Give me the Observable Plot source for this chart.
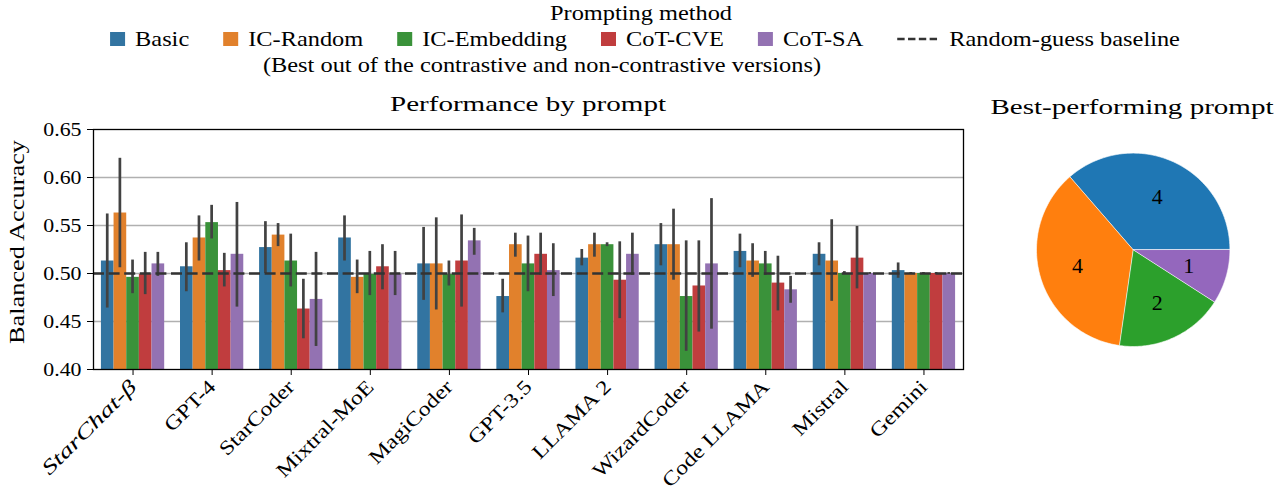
<!DOCTYPE html>
<html><head><meta charset="utf-8">
<script src="https://cdn.jsdelivr.net/npm/d3@7"></script>
<script src="https://cdn.jsdelivr.net/npm/@observablehq/plot@0.6"></script>
<style>
body{margin:0;background:#fff;}
#root{position:relative;width:1278px;height:495px;font-family:"Liberation Serif",serif;color:#000;overflow:hidden;background:#fff}
#bars,#pie,#over{position:absolute;top:0}
#bars{left:0}
#pie{left:975px}
#over{left:0;pointer-events:none}
</style></head><body><div id="root"></div>
<script>
// ---- data ----
const models = ["StarChat-\u03b2","GPT-4","StarCoder","Mixtral-MoE","MagiCoder","GPT-3.5","LLAMA 2","WizardCoder","Code LLAMA","Mistral","Gemini"];
const methods = ["Basic","IC-Random","IC-Embedding","CoT-CVE","CoT-SA"];
const basicVal = [0.513,0.507,0.527,0.537,0.510,0.476,0.516,0.530,0.523,0.520,0.503];
const basicLo  = [0.464,0.481,0.500,0.513,0.472,0.459,0.508,0.508,0.506,0.508,0.495];
const basicHi  = [0.562,0.532,0.554,0.560,0.548,0.494,0.525,0.552,0.541,0.532,0.511];
const icRandVal = [0.563,0.537,0.540,0.496,0.510,0.530,0.530,0.530,0.513,0.513,0.500];
const icRandLo  = [0.506,0.513,0.528,0.479,0.462,0.517,0.517,0.493,0.496,0.471,0.499];
const icRandHi  = [0.620,0.560,0.552,0.514,0.558,0.542,0.542,0.567,0.531,0.556,0.501];
const icEmbVal = [0.496,0.553,0.513,0.499,0.499,0.510,0.530,0.476,0.510,0.500,0.500];
const icEmbLo  = [0.479,0.536,0.486,0.477,0.487,0.481,0.528,0.419,0.498,0.499,0.499];
const icEmbHi  = [0.514,0.571,0.541,0.523,0.513,0.539,0.532,0.534,0.523,0.502,0.501];
const cveVal = [0.499,0.503,0.463,0.507,0.513,0.520,0.493,0.487,0.490,0.516,0.500];
const cveLo  = [0.478,0.486,0.432,0.483,0.465,0.498,0.453,0.439,0.461,0.484,0.499];
const cveHi  = [0.522,0.521,0.494,0.530,0.561,0.542,0.533,0.534,0.518,0.549,0.501];
const saVal = [0.510,0.520,0.473,0.499,0.534,0.503,0.520,0.510,0.483,0.500,0.500];
const saLo  = [0.497,0.465,0.424,0.477,0.519,0.476,0.498,0.442,0.469,0.499,0.499];
const saHi  = [0.522,0.574,0.522,0.523,0.547,0.531,0.542,0.578,0.497,0.501,0.501];
const baseline = [0.5];
const yTicks = [0.40,0.45,0.50,0.55,0.60,0.65];
const gridTicks = [0.45,0.50,0.55,0.60];
const barColors = ["#3274a1","#e1812c","#3a923a","#c03d3e","#9372b2"];
const pieLabels = ["Basic","IC-Random","IC-Embedding","CoT-SA"];
const pieCounts = [4,4,2,1];
const pieColors = ["#1f77b4","#ff7f0e","#2ca02c","#9467bd"];
const baselineLabel = "Random-guess baseline";

const seriesVal = [basicVal,icRandVal,icEmbVal,cveVal,saVal];
const seriesLo = [basicLo,icRandLo,icEmbLo,cveLo,saLo];
const seriesHi = [basicHi,icRandHi,icEmbHi,cveHi,saHi];
const rows = [];
methods.forEach((m,k)=>models.forEach((mod,j)=>rows.push({method:m,model:mod,value:seriesVal[k][j],lo:seriesLo[k][j],hi:seriesHi[k][j]})));

const root = document.getElementById("root");
const FONT = "Liberation Serif";
function stretch(t, f){const w=t.getComputedTextLength(); if(w>0){t.setAttribute("textLength", w*f); t.setAttribute("lengthAdjust","spacingAndGlyphs");} return w*f;}

// ---- bar chart ----
const W = 975, H = 495, mL = 93, mR = 12, mT = 129, mB = 126;
const step = (W - mL - mR) / models.length;
const bw = step * 0.8 / methods.length;
const ew = 2.7;
const marks = [Plot.ruleY(gridTicks, {stroke:"#b0b0b0", strokeWidth:1.3})];
methods.forEach((m,k)=>{
  const d = rows.filter(r=>r.method===m);
  marks.push(Plot.barY(d, {x:"model", y1:()=>yTicks[0], y2:"value", fill:barColors[k], insetLeft:k*bw, insetRight:(methods.length-1-k)*bw}));
});
methods.forEach((m,k)=>{
  const d = rows.filter(r=>r.method===m);
  marks.push(Plot.barY(d, {x:"model", y1:"lo", y2:"hi", fill:"#424242", insetLeft:k*bw+(bw-ew)/2, insetRight:(methods.length-1-k)*bw+(bw-ew)/2}));
});
marks.push(Plot.ruleY(baseline, {stroke:"#333333", strokeWidth:2.6, strokeDasharray:"11,4.6"}));
marks.push(Plot.frame({stroke:"#000", strokeWidth:1.3}));

const bars = Plot.plot({
  width: W, height: H, marginLeft: mL, marginRight: mR, marginTop: mT, marginBottom: mB,
  style: {fontFamily:FONT, fontSize:"20px", color:"#000", background:"transparent", overflow:"visible"},
  x: {domain: models, paddingInner: 0.2, paddingOuter: 0.1, round:false, tickRotate: -45, tickSize: 6, tickPadding: 8, label: null},
  y: {domain: [yTicks[0], yTicks[yTicks.length-1]], ticks: yTicks, tickFormat: d3.format(".2f"), tickSize: 6, tickPadding: 6, label: null},
  marks
});
bars.id = "bars";
root.appendChild(bars);
bars.querySelectorAll('g[aria-label^="x-axis"] text').forEach(t=>{
  if (t.textContent.includes("\u03b2")) { t.style.fontStyle="italic"; stretch(t,1.4); }
  else stretch(t,1.2);
});
bars.querySelectorAll('g[aria-label^="y-axis"] text').forEach(t=>{ t.style.fontSize="19px"; stretch(t,1.15); });

// ---- pie chart ----
const total = d3.sum(pieCounts);
const cum = [0, ...d3.cumsum(pieCounts)];
const piePts = [];
const pieText = [];
pieCounts.forEach((c,i)=>{
  const a0 = 2*Math.PI*cum[i]/total, a1 = 2*Math.PI*cum[i+1]/total;
  piePts.push({s:pieLabels[i], x:0, y:0});
  const n = 80;
  for (let t=0;t<=n;t++){const a=a0+(a1-a0)*t/n; piePts.push({s:pieLabels[i], x:Math.cos(a), y:Math.sin(a)});}
  const am=(a0+a1)/2;
  pieText.push({s:pieLabels[i], n:c, x:0.6*Math.cos(am), y:0.6*Math.sin(am)});
});
const cx = 157.7, cy = 249.3, r = 96.7;
const pieMarks = pieLabels.map((s,i)=>Plot.line(piePts.filter(p=>p.s===s), {x:"x", y:"y", fill:pieColors[i], stroke:"white", strokeWidth:0.6, curve:"linear-closed"}));
pieMarks.push(Plot.text(pieText, {x:"x", y:"y", text:d=>String(d.n), fontSize:22, fill:"#000"}));
const pie = Plot.plot({
  width: 303, height: H, margin: 0,
  style: {fontFamily:FONT, fontSize:"22px", background:"transparent", overflow:"visible"},
  x: {domain:[-1,1], range:[cx-r, cx+r], axis:null},
  y: {domain:[-1,1], range:[cy+r, cy-r], axis:null},
  marks: pieMarks
});
pie.id = "pie";
root.appendChild(pie);

// ---- overlay texts: titles, y label, legend ----
const over = d3.select(root).append("svg").attr("id","over").attr("width",1278).attr("height",495)
  .attr("font-family", FONT).attr("fill","#000");
function txt(str, x, y, size, anchor, target){
  const t = over.append("text").attr("x",x).attr("y",y).attr("font-size",size).attr("text-anchor",anchor).text(str);
  if (target) { t.attr("textLength", target).attr("lengthAdjust","spacingAndGlyphs"); }
  return t;
}
txt("Performance by prompt", 528, 111, 21, "middle", 276);
txt("Best-performing prompt", 1132, 114, 21, "middle", 283);
txt("Balanced Accuracy", 0, 0, 21, "middle", 204).attr("transform","translate(24,242) rotate(-90)");

// legend
const LF = 1.16;
txt("Prompting method", 641, 20, 21, "middle", null).each(function(){stretch(this, LF);});
const lg = over.append("g");
let x = 0;
methods.forEach((m,k)=>{
  lg.append("rect").attr("x",x).attr("y",32).attr("width",15).attr("height",14).attr("fill",barColors[k]);
  const t = lg.append("text").attr("x",x+25).attr("y",46).attr("font-size",21).text(m);
  const w = stretch(t.node(), LF);
  x += 25 + w + 34;
});
lg.append("line").attr("x1",x).attr("x2",x+40).attr("y1",39).attr("y2",39).attr("stroke","#333").attr("stroke-width",2.6).attr("stroke-dasharray","7.4,3.4");
const tb = lg.append("text").attr("x",x+52).attr("y",46).attr("font-size",21).text(baselineLabel);
x += 52 + stretch(tb.node(), LF);
lg.attr("transform", `translate(${645 - x/2},0)`);
txt("(Best out of the contrastive and non-contrastive versions)", 542, 72, 21, "middle", null).each(function(){stretch(this, LF);});
</script>
</body></html>
